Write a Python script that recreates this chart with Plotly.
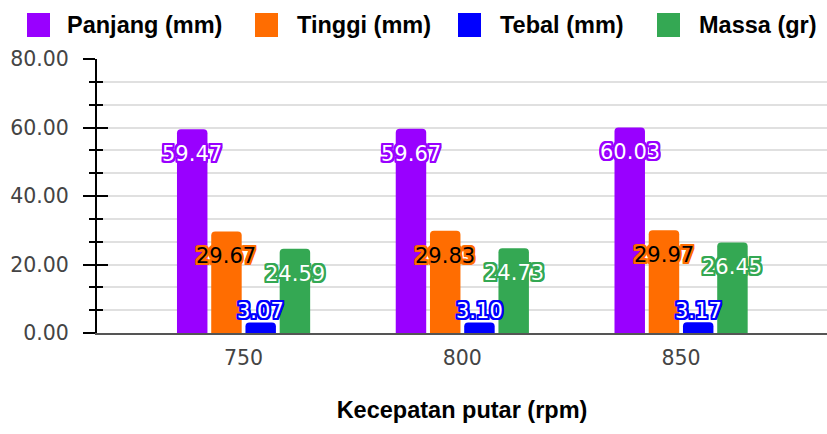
import plotly.graph_objects as go

# ---------------- data ----------------
categories = ["750", "800", "850"]
series_names = ["Panjang (mm)", "Tinggi (mm)", "Tebal (mm)", "Massa (gr)"]
panjang = [59.47, 59.67, 60.03]
tinggi = [29.67, 29.83, 29.97]
tebal = [3.07, 3.10, 3.17]
massa = [24.59, 24.73, 26.45]
x_title = "Kecepatan putar (rpm)"
y_ticks = [0, 20, 40, 60, 80]

series_values = [panjang, tinggi, tebal, massa]
colors = ["#9900ff", "#ff6d01", "#0000ff", "#34a853"]
label_text_colors = ["white", "black", "white", "white"]

# ---------------- layout constants ----------------
W, H = 827, 434
ML, MR, MT, MB = 97, 0, 59, 101
PW, PH = W - ML - MR, H - MT - MB
BARGAP = 0.374
BARGROUPGAP = 0.11
XRANGE = [-0.670, 2.667]
YRANGE = [0, 80]

fig = go.Figure()
for name, vals, col in zip(series_names, series_values, colors):
    fig.add_trace(go.Bar(
        x=categories, y=vals, name=name, marker=dict(color=col, line=dict(width=0)),
        showlegend=False, hoverinfo="skip",
    ))

# data labels
n = len(series_names)
slot = (1 - BARGAP) / n
px_per_unit = PH / (YRANGE[1] - YRANGE[0])
annotations = []
for i, (vals, col, tcol) in enumerate(zip(series_values, colors, label_text_colors)):
    off = (i - (n - 1) / 2) * slot
    s = 2
    shadow = ", ".join(f"{dx}px {dy}px 0 {col}" for dx in (-s, -1, 0, 1, s) for dy in (-s, -1, 0, 1, s) if (dx, dy) != (0, 0))
    for ci, v in enumerate(vals):
        inside = v * px_per_unit > 40
        annotations.append(dict(
            x=ci + off, y=v, xref="x", yref="y", text=f"{v:.2f}", showarrow=False,
            yanchor="middle" if inside else "bottom", yshift=-25 if inside else -3,
            font=dict(family="DejaVu Sans", size=21, color=tcol, shadow=shadow),
        ))

# custom legend
leg_box_left = [27, 255, 458, 657]
leg_text_left = [65, 295, 498, 697]
shapes = []
def px2x(px):
    return (px - ML) / PW
def py2y(py):
    return 1 + (MT - py) / PH
for bl, tl, name, col in zip(leg_box_left, leg_text_left, series_names, colors):
    shapes.append(dict(type="rect", xref="paper", yref="paper",
                       x0=px2x(bl), x1=px2x(bl + 23), y0=py2y(37), y1=py2y(13),
                       fillcolor=col, line=dict(width=0)))
    annotations.append(dict(xref="paper", yref="paper", x=px2x(tl), y=py2y(25),
                            xanchor="left", yanchor="middle", showarrow=False, text=name,
                            font=dict(family="Liberation Sans, Arial", size=23.5, color="black", weight="bold")))

fig.update_layout(
    width=W, height=H, margin=dict(l=ML, r=MR, t=MT, b=MB, autoexpand=False),
    paper_bgcolor="white", plot_bgcolor="white",
    barmode="group", bargap=BARGAP, bargroupgap=BARGROUPGAP, barcornerradius=4,
    showlegend=False, annotations=annotations, shapes=shapes,
    xaxis=dict(
        type="category", range=XRANGE, showgrid=False, zeroline=False,
        showline=True, linecolor="#555555", linewidth=1.5, ticks="",
        tickfont=dict(family="DejaVu Sans", size=20.5, color="#444444"),
        ticklabelstandoff=6,
        title=dict(text=x_title, standoff=32,
                   font=dict(family="Liberation Sans, Arial", size=23.5, color="black", weight="bold")),
    ),
    yaxis=dict(
        range=YRANGE, tickvals=y_ticks, tickformat=".2f",
        showgrid=True, gridcolor="#e0e0e0", gridwidth=1.5, zeroline=False,
        showline=True, linecolor="black", linewidth=2,
        ticks="outside", ticklen=12, tickwidth=2, tickcolor="black",
        tickfont=dict(family="DejaVu Sans", size=20.5, color="#444444"),
        ticklabelstandoff=10,
        minor=dict(dtick=20 / 3, ticks="outside", ticklen=6, tickwidth=2, tickcolor="black",
                   showgrid=True, gridcolor="#e0e0e0", gridwidth=1.5),
    ),
    yaxis2=dict(
        overlaying="y", side="left", range=YRANGE, tickvals=y_ticks,
        showgrid=False, zeroline=False, showticklabels=False, showline=False,
        ticks="inside", ticklen=11, tickwidth=2, tickcolor="black",
        minor=dict(dtick=20 / 3, ticks="inside", ticklen=6, tickwidth=2, tickcolor="black", showgrid=False),
    ),
)
# invisible trace to activate yaxis2
fig.add_trace(go.Scatter(x=[categories[0]], y=[0], yaxis="y2", mode="markers",
                         marker=dict(opacity=0), showlegend=False, hoverinfo="skip"))

fig.write_html("out.html", config={"displayModeBar": False},
               post_script="document.body.style.margin='0px';")
